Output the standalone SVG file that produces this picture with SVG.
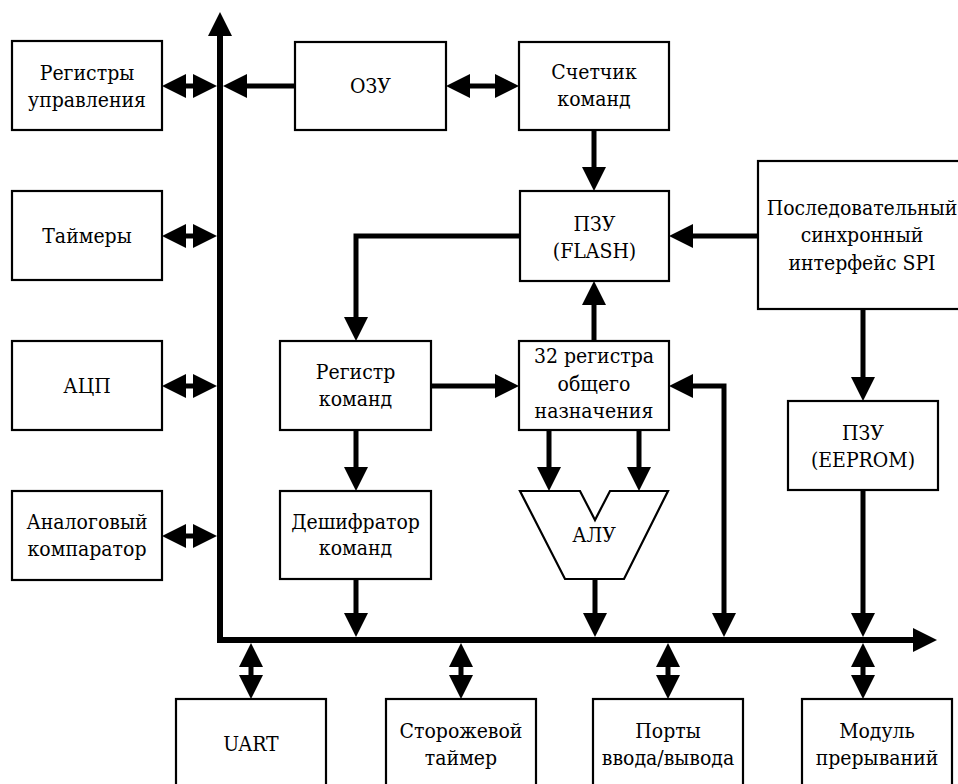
<svg xmlns="http://www.w3.org/2000/svg" width="958" height="784" viewBox="0 0 958 784">
<style>
.box{fill:#fff;stroke:#000;stroke-width:2.2}
text{font-family:'DejaVu Serif Condensed','DejaVu Serif',serif;font-stretch:condensed;font-size:21px;fill:#000;text-anchor:middle}
.c{fill:none;stroke:#000;stroke-width:5;stroke-linecap:round;stroke-linejoin:miter}
.bus{fill:none;stroke:#000;stroke-width:6;stroke-linejoin:miter}
</style>
<defs>
<marker id="ah" markerUnits="userSpaceOnUse" markerWidth="24" markerHeight="24" refX="16" refY="12" orient="auto-start-reverse" viewBox="0 0 24 24">
<path d="M0,0 L24,12 L0,24 z" fill="#000"/>
</marker>
</defs>
<rect width="958" height="784" fill="#fff"/>

<g id="connectors">
<path class="bus" d="M220,20 L220,640 L929,640" marker-start="url(#ah)" marker-end="url(#ah)"/>
<path class="c" d="M170,86 L209,86" marker-start="url(#ah)" marker-end="url(#ah)"/>
<path class="c" d="M170,236 L209,236" marker-start="url(#ah)" marker-end="url(#ah)"/>
<path class="c" d="M170,386 L209,386" marker-start="url(#ah)" marker-end="url(#ah)"/>
<path class="c" d="M170,536 L209,536" marker-start="url(#ah)" marker-end="url(#ah)"/>
<path class="c" d="M295,86 L231,86" marker-end="url(#ah)"/>
<path class="c" d="M454,86 L511,86" marker-start="url(#ah)" marker-end="url(#ah)"/>
<path class="c" d="M594,130 L594,183" marker-end="url(#ah)"/>
<path class="c" d="M758,236 L677,236" marker-end="url(#ah)"/>
<path class="c" d="M520,236 L356,236 L356,333" marker-end="url(#ah)"/>
<path class="c" d="M431,386 L511,386" marker-end="url(#ah)"/>
<path class="c" d="M594,341 L594,289" marker-end="url(#ah)"/>
<path class="c" d="M677,386 L724,386 L724,629" marker-start="url(#ah)" marker-end="url(#ah)"/>
<path class="c" d="M549,430 L549,483" marker-end="url(#ah)"/>
<path class="c" d="M639,430 L639,483" marker-end="url(#ah)"/>
<path class="c" d="M595,579 L595,629" marker-end="url(#ah)"/>
<path class="c" d="M356,430 L356,483" marker-end="url(#ah)"/>
<path class="c" d="M356,579 L356,629" marker-end="url(#ah)"/>
<path class="c" d="M863,309 L863,393" marker-end="url(#ah)"/>
<path class="c" d="M863,490 L863,629" marker-end="url(#ah)"/>
<path class="c" d="M251,651 L251,691" marker-start="url(#ah)" marker-end="url(#ah)"/>
<path class="c" d="M461,651 L461,691" marker-start="url(#ah)" marker-end="url(#ah)"/>
<path class="c" d="M668,651 L668,691" marker-start="url(#ah)" marker-end="url(#ah)"/>
<path class="c" d="M863,651 L863,691" marker-start="url(#ah)" marker-end="url(#ah)"/>
</g>

<g id="reg-upr"><rect class="box" x="12" y="41" width="150" height="89"/><text x="87" y="80">Регистры</text><text x="87" y="107">управления</text></g>
<g id="timers"><rect class="box" x="12" y="191" width="150" height="89"/><text x="87" y="243">Таймеры</text></g>
<g id="adc"><rect class="box" x="12" y="341" width="150" height="89"/><text x="87" y="393">АЦП</text></g>
<g id="comparator"><rect class="box" x="12" y="491" width="150" height="89"/><text x="87" y="529">Аналоговый</text><text x="87" y="556">компаратор</text></g>

<g id="ram"><rect class="box" x="295" y="42" width="151" height="88"/><text x="370.5" y="93">ОЗУ</text></g>
<g id="pc"><rect class="box" x="519" y="42" width="150" height="88"/><text x="594" y="79">Счетчик</text><text x="594" y="106">команд</text></g>
<g id="flash"><rect class="box" x="520" y="191" width="149" height="90"/><text x="594.5" y="231">ПЗУ</text><text x="594.5" y="258">(FLASH)</text></g>
<g id="spi"><rect class="box" x="758" y="161" width="210" height="148"/><text x="862" y="215">Последовательный</text><text x="862" y="242">синхронный</text><text x="862" y="270">интерфейс SPI</text></g>

<g id="ir"><rect class="box" x="280" y="341" width="151" height="89"/><text x="355.5" y="379">Регистр</text><text x="355.5" y="406">команд</text></g>
<g id="gpr"><rect class="box" x="519" y="341" width="150" height="89"/><text x="594" y="363">32 регистра</text><text x="594" y="391">общего</text><text x="594" y="418">назначения</text></g>
<g id="eeprom"><rect class="box" x="788" y="401" width="150" height="89"/><text x="863" y="440">ПЗУ</text><text x="863" y="467">(EEPROM)</text></g>

<g id="decoder"><rect class="box" x="280" y="491" width="151" height="88"/><text x="355.5" y="529">Дешифратор</text><text x="355.5" y="555">команд</text></g>
<g id="alu"><polygon class="box" points="520,491 580,491 595,520 610,491 668,491 624,579 565,579"/><text x="594" y="542">АЛУ</text></g>

<g id="uart"><rect class="box" x="176" y="699" width="150" height="100"/><text x="251" y="751">UART</text></g>
<g id="wdt"><rect class="box" x="386" y="699" width="150" height="100"/><text x="461" y="738">Сторожевой</text><text x="461" y="765">таймер</text></g>
<g id="ports"><rect class="box" x="593" y="699" width="150" height="100"/><text x="668" y="738">Порты</text><text x="668" y="765">ввода/вывода</text></g>
<g id="irq"><rect class="box" x="802" y="699" width="150" height="100"/><text x="877" y="738">Модуль</text><text x="877" y="765">прерываний</text></g>
</svg>
